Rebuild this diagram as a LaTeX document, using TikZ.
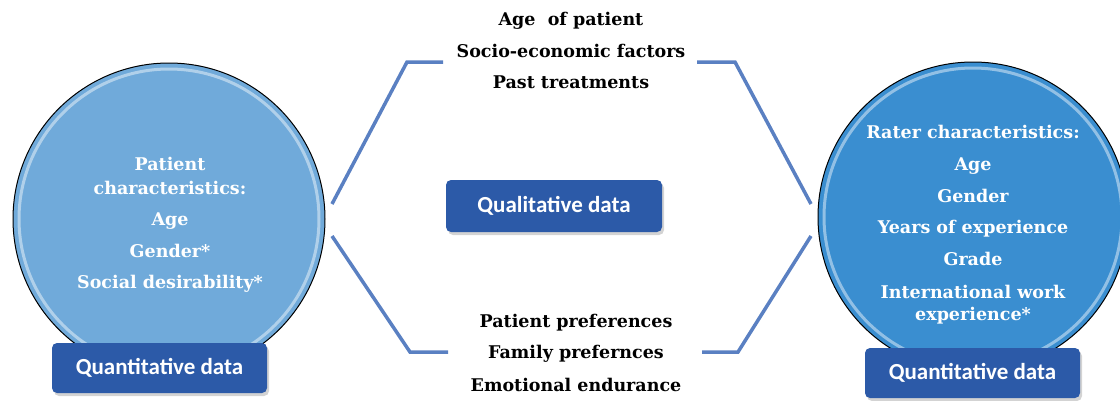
\documentclass[tikz,border=0pt]{standalone}
\usepackage{fontspec}
\setmainfont{DejaVu Serif}
\newfontfamily\boxfont{Carlito}
\usetikzlibrary{shadows}
\definecolor{lcirc}{HTML}{70AADA}
\definecolor{rcirc}{HTML}{3A8ED0}
\definecolor{boxblue}{HTML}{2C5AA8}
\definecolor{linkblue}{HTML}{5A80C2}
\tikzset{
  bigcirc/.style={circle, draw=black, line width=1pt, inner sep=0pt},
  databox/.style={rounded corners=5pt, fill=boxblue, text=white, font=\boxfont\bfseries\fontsize{23}{23}\selectfont,
    drop shadow={opacity=0.35, shadow xshift=2pt, shadow yshift=-3pt}, inner sep=0pt},
  wtxt/.style={text=white, font=\bfseries\fontsize{17.5}{17.5}\selectfont, inner sep=0pt, anchor=base},
  btxt/.style={text=black, font=\bfseries\fontsize{17.5}{17.5}\selectfont, inner sep=0pt, anchor=base}
}
\tikzset{link/.style={draw=linkblue, line width=3.5pt}}
\begin{document}
\begin{tikzpicture}[x=1pt, y=-1pt]
\useasboundingbox (0,0) rectangle (1120,400);
% circles
\node[bigcirc, fill=lcirc, minimum size=312pt] (lc) at (169,219) {};
\draw[white, opacity=0.45, line width=3pt] (169,219) circle (150);
\node[bigcirc, fill=rcirc, minimum size=310pt] (rc) at (973,217) {};
\draw[white, opacity=0.45, line width=3pt] (973,217) circle (149);
% left circle text
\node[wtxt] (l1) at (170,170) {Patient};
\node[wtxt] (l2) at (170,194) {characteristics:};
\node[wtxt] (l3) at (170,225) {Age};
\node[wtxt] (l4) at (170,257) {Gender*};
\node[wtxt] (l5) at (170,288) {Social desirability*};
% right circle text
\node[wtxt] (r1) at (973,138) {Rater characteristics:};
\node[wtxt] (r2) at (973,170) {Age};
\node[wtxt] (r3) at (973,202) {Gender};
\node[wtxt] (r4) at (973,233) {Years of experience};
\node[wtxt] (r5) at (973,265) {Grade};
\node[wtxt] (r6) at (973,298) {International work};
\node[wtxt] (r7) at (973,320) {experience*};
% boxes
\node[databox, minimum width=215pt, minimum height=50pt] (lb) at (159.5,368) {Quantitative data};
\node[databox, minimum width=215pt, minimum height=50pt] (rb) at (972.5,373) {Quantitative data};
\node[databox, minimum width=216pt, minimum height=52pt] (qb) at (554,206) {Qualitative data};
% center texts
\node[btxt] (t1) at (571,25) {Age\ \ of patient};
\node[btxt] (t2) at (571,57) {Socio-economic factors};
\node[btxt] (t3) at (571,88) {Past treatments};
\node[btxt] (b1) at (576,327) {Patient preferences};
\node[btxt] (b2) at (576,358) {Family prefernces};
\node[btxt] (b3) at (576,391) {Emotional endurance};
% connector points
\coordinate (tlA) at (332,204);
\coordinate (tlB) at (407,62);
\coordinate (tlC) at (443,62);
\coordinate (trA) at (697,62);
\coordinate (trB) at (735,62);
\coordinate (trC) at (811,204);
\coordinate (blA) at (332,236);
\coordinate (blB) at (410,352);
\coordinate (blC) at (448,352);
\coordinate (brA) at (702,352);
\coordinate (brB) at (738,352);
\coordinate (brC) at (811,236);
\draw[link] (tlA) -- (tlB) -- (tlC);
\draw[link] (trA) -- (trB) -- (trC);
\draw[link] (blA) -- (blB) -- (blC);
\draw[link] (brA) -- (brB) -- (brC);
\end{tikzpicture}
\end{document}
